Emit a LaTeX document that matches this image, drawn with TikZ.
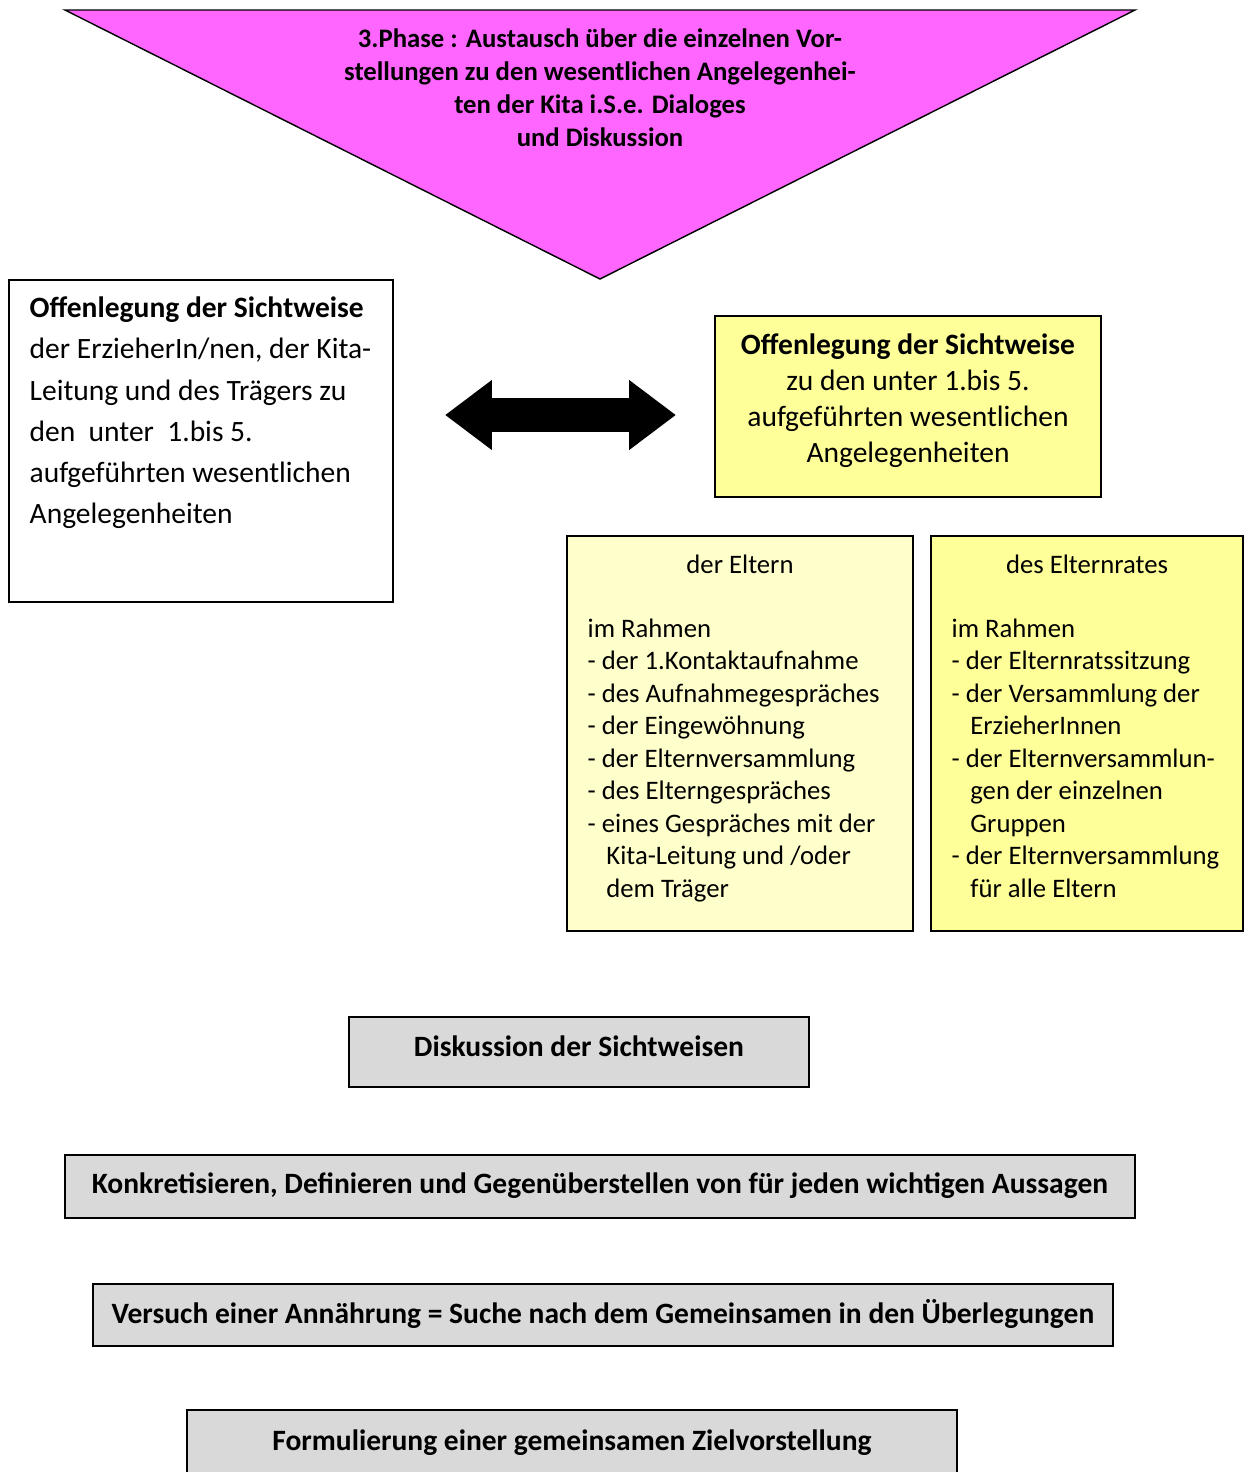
\documentclass[tikz,border=0pt]{standalone}
\usepackage{fontspec}
\setmainfont{Carlito}
\usetikzlibrary{positioning,arrows.meta}
\definecolor{phasepink}{HTML}{FF66FF}
\definecolor{sichtyellow}{HTML}{FFFF99}
\definecolor{elternyellow}{HTML}{FFFFCC}
\definecolor{boxgray}{HTML}{D9D9D9}

\begin{document}
\begin{tikzpicture}
  [x=0.02cm,y=-0.02cm,
   every node/.style={font=\fontsize{15.2}{18.5}\selectfont},
   box/.style={draw,line width=0.8pt,rectangle,inner sep=0pt},
   graybox/.style={box,fill=boxgray,text depth=4pt,font=\bfseries\fontsize{16.8}{20}\selectfont},
   plain/.style={inner sep=0pt,align=left},
   bigarrow/.style={line width=0.68cm,{Triangle[length=0.94cm,width=1.34cm]}-{Triangle[length=0.94cm,width=1.34cm]}}]

  \useasboundingbox (0,0) rectangle (1247,1472);

  % phase triangle
  \draw[fill=phasepink,line width=0.8pt] (65,10) -- (1135,10) -- (600,279) -- cycle;
  \node[align=center,inner sep=0pt,font=\bfseries\fontsize{15.2}{18.8}\selectfont] (phase) at (600,88)
    {3.Phase : Austausch über die einzelnen Vor-\\stellungen zu den wesentlichen Angelegenhei-\\ten der Kita i.S.e. Dialoges\\und Diskussion};

  % view of staff
  \node[box,minimum width=7.68cm,minimum height=6.44cm] (erz) at (201,441) {};
  \node[plain,font=\fontsize{16.8}{23.5}\selectfont,below right=0.34cm and 0.42cm of erz.north west] (erztext)
    {\textbf{Offenlegung der Sichtweise}\\der ErzieherIn/nen, der Kita-\\Leitung und des Trägers zu\\den\ \ unter\ \ 1.bis 5.\\aufgeführten wesentlichen\\Angelegenheiten};

  \coordinate (al) at (445,415);
  \coordinate (ar) at (676,415);
  \draw[bigarrow] (al) -- (ar);

  % view of parents
  \node[box,fill=sichtyellow,minimum width=7.72cm,minimum height=3.62cm,align=center,
        font=\fontsize{16.8}{20.5}\selectfont] (sicht) at (908,406.5)
    {\textbf{Offenlegung der Sichtweise}\\zu den unter 1.bis 5.\\aufgeführten wesentlichen\\Angelegenheiten\rule[-10pt]{0pt}{0pt}};

  \node[box,fill=elternyellow,minimum width=6.92cm,minimum height=7.9cm] (eltern) at (740,733.5) {};
  \node[plain,below=0.38cm of eltern.north] (elterntitle) {der Eltern};
  \node[plain,below right=1.66cm and 0.42cm of eltern.north west] (elternlist)
    {im Rahmen\\- der 1.Kontaktaufnahme\\- des Aufnahmegespräches\\- der Eingewöhnung\\- der Elternversammlung\\- des Elterngespräches\\- eines Gespräches mit der\\\hspace*{0.7em}Kita-Leitung und /oder\\\hspace*{0.7em}dem Träger};

  \node[box,fill=sichtyellow,minimum width=6.24cm,minimum height=7.9cm] (rat) at (1087,733.5) {};
  \node[plain,below=0.38cm of rat.north] (rattitle) {des Elternrates};
  \node[plain,below right=1.66cm and 0.42cm of rat.north west] (ratlist)
    {im Rahmen\\- der Elternratssitzung\\- der Versammlung der\\\hspace*{0.7em}ErzieherInnen\\- der Elternversammlun-\\\hspace*{0.7em}gen der einzelnen\\\hspace*{0.7em}Gruppen\\- der Elternversammlung\\\hspace*{0.7em}für alle Eltern};

  % steps
  \node[graybox,minimum width=9.2cm,minimum height=1.4cm,text depth=7pt] (disk) at (579,1052) {Diskussion der Sichtweisen};
  \node[graybox,minimum width=21.4cm,minimum height=1.26cm] (konk) at (600,1186.5)
    {Konkretisieren, Definieren und Gegenüberstellen von für jeden wichtigen Aussagen};
  \node[graybox,minimum width=20.4cm,minimum height=1.24cm] (vers) at (603,1315)
    {Versuch einer Annährung = Suche nach dem Gemeinsamen in den Überlegungen};
  \node[graybox,minimum width=15.4cm,minimum height=1.4cm,text depth=6pt] (form) at (572,1445)
    {Formulierung einer gemeinsamen Zielvorstellung};
\end{tikzpicture}
\end{document}
